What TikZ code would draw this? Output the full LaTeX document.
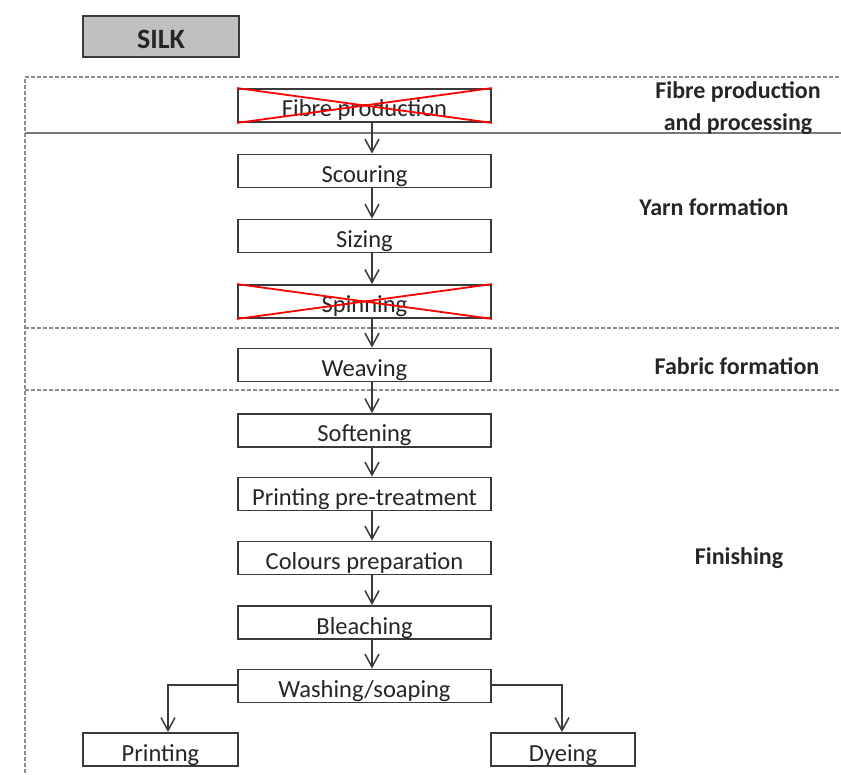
\documentclass[tikz,border=0pt]{standalone}
\usepackage{fontspec}
\setmainfont{Carlito}
\usetikzlibrary{arrows.meta}
\definecolor{boxline}{HTML}{3A3A3A}
\definecolor{txt}{HTML}{262626}
\definecolor{frameline}{HTML}{8C8C8C}
\definecolor{silkfill}{HTML}{C0C0C0}
\begin{document}
\begin{tikzpicture}[x=1pt,y=-1pt,
  stepbox/.style={draw=boxline,line width=1.8pt,fill=white,minimum width=253pt,
    minimum height=33pt,inner sep=0pt,text height=23pt,text depth=0pt,text=txt,
    font=\fontsize{24.5}{28}\selectfont},
  endbox/.style={stepbox,minimum width=155pt},
  stagelabel/.style={text=txt,align=center,font=\fontsize{24}{32}\selectfont\bfseries},
  framedash/.style={draw=frameline,line width=1.3pt,dash pattern=on 4pt off 2pt},
  flow/.style={draw=boxline,line width=1.5pt,-{Straight Barb[length=13pt,width=14pt,line width=1.5pt]}},
  strike/.style={draw=red,line width=1.8pt}
]
\useasboundingbox (0,0) rectangle (841,775);
\clip (0,0) rectangle (841,775);
\fill[white] (0,0) rectangle (841,775);

% title tag
\node[draw=boxline,line width=1.8pt,fill=silkfill,minimum width=156pt,minimum height=41pt,
  inner sep=0pt,text height=25pt,text depth=0pt,text=txt,
  font=\fontsize{28}{32}\selectfont\bfseries] (silk) at (161,36.5) {SILK};

% stage frame and separators
\draw[framedash] (845,77) -- (25,77) -- (25,780);
\draw[draw=frameline!85!black,line width=1.3pt] (25,133) -- (845,133);
\draw[framedash] (25,328) -- (845,328);
\draw[framedash] (25,390) -- (845,390);

% stage labels
\node[stagelabel] (lfibre) at (738,108) {Fibre production\\and processing};
\node[stagelabel] (lyarn) at (714,207) {Yarn formation};
\node[stagelabel] (lfabric) at (737,366) {Fabric formation};
\node[stagelabel] (lfinish) at (739,558) {Finishing};

% process steps
\node[stepbox] (fibre) at (364.5,105.5) {Fibre production};
\node[stepbox] (scour) at (364.5,171) {Scouring};
\node[stepbox] (size) at (364.5,236) {Sizing};
\node[stepbox] (spin) at (364.5,301.5) {Spinning};
\node[stepbox] (weave) at (364.5,365) {Weaving};
\node[stepbox] (soft) at (364.5,430.5) {Softening};
\node[stepbox] (pretreat) at (364.5,494) {Printing pre-treatment};
\node[stepbox] (colours) at (364.5,558) {Colours preparation};
\node[stepbox] (bleach) at (364.5,622.5) {Bleaching};
\node[stepbox] (wash) at (364.5,686) {Washing/soaping};
\node[endbox] (print) at (160.5,749.5) {Printing};
\node[endbox,minimum width=144pt] (dye) at (563,749.5) {Dyeing};

% skipped steps
\draw[strike] (fibre.north west) -- (fibre.south east);
\draw[strike] (fibre.south west) -- (fibre.north east);
\draw[strike] (spin.north west) -- (spin.south east);
\draw[strike] (spin.south west) -- (spin.north east);

% flow
\foreach \a/\b in {fibre/scour,scour/size,size/spin,spin/weave,weave/soft,
                   soft/pretreat,pretreat/colours,colours/bleach,bleach/wash}
  \draw[flow] ([xshift=7.5pt]\a.south) -- ([xshift=7.5pt]\b.north);
\draw[flow] ([yshift=1pt]wash.west) -| ([xshift=7.5pt]print.north);
\draw[flow] ([yshift=1pt]wash.east) -| ([xshift=-1pt]dye.north);
\end{tikzpicture}
\end{document}
